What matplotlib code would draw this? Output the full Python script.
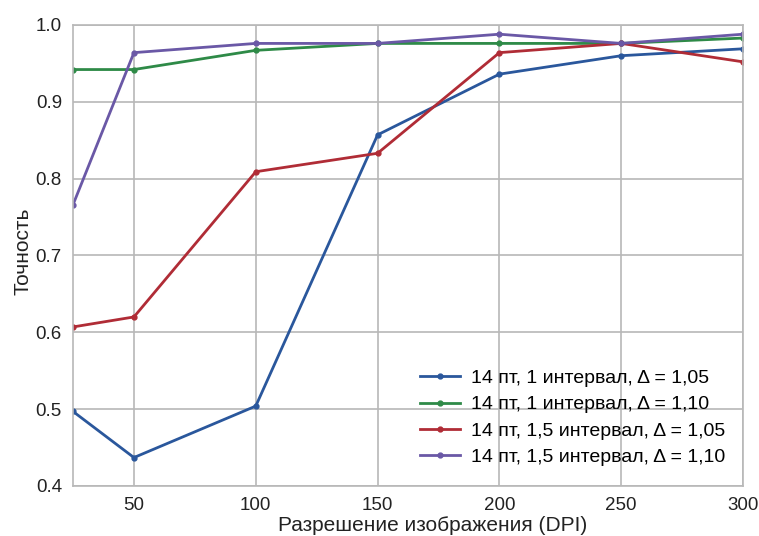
import matplotlib
matplotlib.use("Agg")
import matplotlib.pyplot as plt

plt.rcParams['font.family'] = ['Liberation Sans', 'DejaVu Sans']

# data
dpi_values = [25, 50, 100, 150, 200, 250, 300]
blue_acc = [0.497, 0.437, 0.504, 0.857, 0.936, 0.960, 0.969]
green_acc = [0.942, 0.942, 0.967, 0.976, 0.976, 0.976, 0.983]
red_acc = [0.607, 0.620, 0.809, 0.833, 0.964, 0.976, 0.952]
purple_acc = [0.766, 0.964, 0.976, 0.976, 0.988, 0.976, 0.988]

labels = [
    "14 пт, 1 интервал, Δ = 1,05",
    "14 пт, 1 интервал, Δ = 1,10",
    "14 пт, 1,5 интервал, Δ = 1,05",
    "14 пт, 1,5 интервал, Δ = 1,10",
]
colors = ["#2a579c", "#2e8a47", "#b02c36", "#6a58a6"]
series = [blue_acc, green_acc, red_acc, purple_acc]

fig = plt.figure(figsize=(7.59, 5.36), dpi=100)
ax = fig.add_axes([0.0962, 0.0933, 0.8828, 0.8601])

for y, c, lab in zip(series, colors, labels):
    ax.plot(dpi_values, y, color=c, lw=2.0, marker='o', markersize=3.5, label=lab)

ax.set_xlim(25, 300)
ax.set_ylim(0.4, 1.0)
ax.set_xticks([50, 100, 150, 200, 250, 300])
ax.set_yticks([0.4, 0.5, 0.6, 0.7, 0.8, 0.9, 1.0])
ax.grid(True, color='#b8b8b8', lw=1.2)
ax.set_axisbelow(True)
for s in ax.spines.values():
    s.set_color('#b8b8b8')
    s.set_linewidth(1.2)
ax.tick_params(length=0, labelsize=13.5, pad=8, colors='#222222')

ax.set_xlabel("Разрешение изображения (DPI)", fontsize=15, color='#222222')
ax.set_ylabel("Точность", fontsize=15, color='#222222')
ax.xaxis.set_label_coords(0.536, -0.066)
ax.yaxis.set_label_coords(-0.06, 0.51)

ax.legend(loc='lower right', frameon=False, fontsize=14, handlelength=2.05,
          handletextpad=0.6, labelspacing=0.45, bbox_to_anchor=(1.0, 0.005))

fig.savefig("out.png", dpi=100)
